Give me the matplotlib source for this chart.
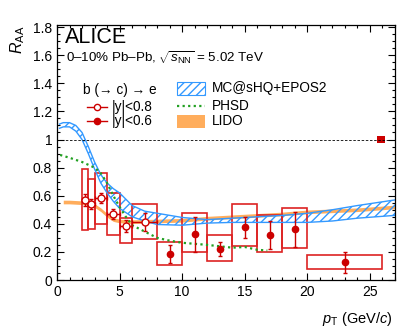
import numpy as np
import matplotlib
matplotlib.use('Agg')
import matplotlib.pyplot as plt
from matplotlib.patches import Rectangle
from matplotlib.lines import Line2D
from matplotlib.ticker import MultipleLocator

plt.rcParams['font.family'] = 'Liberation Sans'
plt.rcParams['mathtext.fontset'] = 'custom'
plt.rcParams['mathtext.rm'] = 'Liberation Sans'
plt.rcParams['mathtext.it'] = 'Liberation Sans:italic'

# |y|<0.8 (open)
pt_open = [2.25, 2.75, 3.5, 4.5, 5.5, 7.0]
lo_open = [2.0, 2.5, 3.0, 4.0, 5.0, 6.0]
hi_open = [2.5, 3.0, 4.0, 5.0, 6.0, 8.0]
raa_open = [0.57, 0.54, 0.585, 0.47, 0.385, 0.415]
stat_open = [0.04, 0.035, 0.035, 0.035, 0.045, 0.065]
syst_open_lo = [0.356, 0.36, 0.40, 0.32, 0.265, 0.29]
syst_open_hi = [0.787, 0.716, 0.763, 0.617, 0.44, 0.54]

# |y|<0.6 (filled)
pt_fill = [9, 11, 13, 15, 17, 19, 23]
lo_fill = [8, 10, 12, 14, 16, 18, 20]
hi_fill = [10, 12, 14, 16, 18, 20, 26]
raa_fill = [0.183, 0.325, 0.22, 0.375, 0.322, 0.36, 0.125]
stat_fill = [0.065, 0.125, 0.05, 0.075, 0.1, 0.125, 0.075]
syst_fill_lo = [0.11, 0.20, 0.135, 0.24, 0.20, 0.225, 0.08]
syst_fill_hi = [0.27, 0.475, 0.32, 0.54, 0.46, 0.51, 0.18]

# MC@sHQ+EPOS2 band
pt_mc = [0.2, 0.5, 1, 1.5, 2, 2.5, 3, 3.5, 4, 4.5, 5, 6, 7, 8, 10, 12, 14, 16, 18, 20, 22, 24, 27]
mc_up = [1.11, 1.12, 1.12, 1.10, 1.05, 0.95, 0.84, 0.75, 0.69, 0.65, 0.62, 0.53, 0.49, 0.475, 0.445, 0.43, 0.44, 0.45, 0.46, 0.475, 0.50, 0.53, 0.57]
mc_lo = [1.08, 1.09, 1.09, 1.06, 1.00, 0.90, 0.79, 0.69, 0.62, 0.56, 0.51, 0.45, 0.42, 0.395, 0.39, 0.405, 0.41, 0.41, 0.41, 0.41, 0.42, 0.44, 0.46]

# PHSD
pt_phsd = [0.25, 1, 2, 3, 3.5, 4, 4.5, 5, 5.5, 6, 7, 8, 9, 10, 12, 14, 15, 16, 16.8]
phsd = [0.89, 0.87, 0.84, 0.80, 0.76, 0.69, 0.60, 0.52, 0.45, 0.39, 0.345, 0.30, 0.28, 0.265, 0.25, 0.23, 0.235, 0.215, 0.21]

# LIDO
pt_lido = [0.5, 1, 2, 2.5, 3, 3.5, 4, 4.5, 5, 6, 8, 10, 12, 14, 16, 18, 20, 24, 27]
lido = [0.555, 0.555, 0.55, 0.545, 0.53, 0.50, 0.46, 0.43, 0.42, 0.415, 0.42, 0.425, 0.44, 0.45, 0.46, 0.47, 0.485, 0.50, 0.52]

red = '#cc0000'
box_red = '#dd2222'
blue = '#3399ff'
orange = '#ff9933'
green = '#22a022'

fig = plt.figure(figsize=(4.11, 3.27), dpi=100)
ax = fig.add_axes([57/411, 1-280/327, 338/411, 255/327])

# models
lido = np.array(lido)
ax.fill_between(pt_lido, lido-0.013, lido+0.013, color=orange, alpha=0.8, lw=0)
ax.fill_between(pt_mc, mc_lo, mc_up, facecolor='none', edgecolor=blue, hatch='////', lw=0)
ax.plot(pt_mc, mc_up, color=blue, lw=1)
ax.plot(pt_mc, mc_lo, color=blue, lw=1)
ax.plot(pt_phsd, phsd, color=green, lw=1.6, ls=(0, (1, 1.5)))

ax.axhline(1, color='black', lw=0.6, ls=(0, (3, 2)))

# systematic boxes
for l, h, a, b in zip(lo_open + lo_fill, hi_open + hi_fill,
                      syst_open_lo + syst_fill_lo, syst_open_hi + syst_fill_hi):
    ax.add_patch(Rectangle((l, a), h-l, b-a, fill=False, edgecolor=box_red, lw=1.2))

# normalisation uncertainty
ax.add_patch(Rectangle((25.6, 0.975), 0.6, 0.05, color=red, lw=0))

xerr_open = [(h-l)/2 for l, h in zip(lo_open, hi_open)]
ax.errorbar(pt_open, raa_open, yerr=stat_open, xerr=xerr_open, fmt='o', mfc='white',
            mec=red, ecolor=red, ms=5, mew=1, elinewidth=1, capsize=1.5, zorder=5)
ax.errorbar(pt_fill, raa_fill, yerr=stat_fill, fmt='o', color=red, ms=4.5,
            elinewidth=1, capsize=1.5, zorder=5)

ax.set_xlim(0, 27)
ax.set_ylim(0, 1.815)
ax.xaxis.set_major_locator(MultipleLocator(5))
ax.xaxis.set_minor_locator(MultipleLocator(1))
ax.yaxis.set_minor_locator(MultipleLocator(0.05))
ax.set_yticks([0, 0.2, 0.4, 0.6, 0.8, 1, 1.2, 1.4, 1.6, 1.8])
ax.set_yticklabels(['0', '0.2', '0.4', '0.6', '0.8', '1', '1.2', '1.4', '1.6', '1.8'])
ax.tick_params(which='both', direction='in', top=True, right=True, labelsize=10, width=0.8)
ax.tick_params(which='major', length=5)
ax.tick_params(which='minor', length=2.5)
for s in ax.spines.values():
    s.set_linewidth(0.9)

fig.text(18/411, 1-26/327, r'$R_{\rm AA}$', rotation=90, ha='center', va='top', fontsize=11.5)
fig.text(393/411, 1-323/327, r'$p_{\rm T}$ (GeV/$c$)', ha='right', va='baseline', fontsize=10.5)

T = ax.transAxes
ax.text(0.024, 0.928, 'ALICE', transform=T, fontsize=15.5, va='baseline')
ax.text(0.027, 0.851, r'0–10% Pb–Pb, $\sqrt{s_{\rm NN}}$ = 5.02 TeV', transform=T,
        fontsize=9.6, va='baseline')

# legend, left column
ax.text(0.077, 0.747, 'b (→ c) → e', transform=T, fontsize=9.8, va='center')
for y, mfc, txt in [(0.678, 'white', '|y|<0.8'), (0.622, red, '|y|<0.6')]:
    ax.add_line(Line2D([0.089, 0.147], [y, y], transform=T, color=red, lw=1))
    ax.add_line(Line2D([0.118], [y], transform=T, marker='o', ms=4.5, mfc=mfc, mec=red, mew=1))
    ax.text(0.163, y, txt, transform=T, fontsize=9.8, va='center')

# legend, right column
ax.add_patch(Rectangle((0.355, 0.725), 0.083, 0.05, transform=T, facecolor='white',
                       edgecolor=blue, hatch='////', lw=0.8))
ax.text(0.459, 0.751, 'MC@sHQ+EPOS2', transform=T, fontsize=9.8, va='center')
ax.add_line(Line2D([0.355, 0.438], [0.684, 0.684], transform=T, color=green, lw=1.6, ls=(0, (1, 1.5))))
ax.text(0.459, 0.684, 'PHSD', transform=T, fontsize=9.8, va='center')
ax.add_patch(Rectangle((0.355, 0.598), 0.083, 0.05, transform=T, facecolor=orange, alpha=0.8, lw=0))
ax.text(0.459, 0.624, 'LIDO', transform=T, fontsize=9.8, va='center')

fig.savefig('out.png', dpi=100)
